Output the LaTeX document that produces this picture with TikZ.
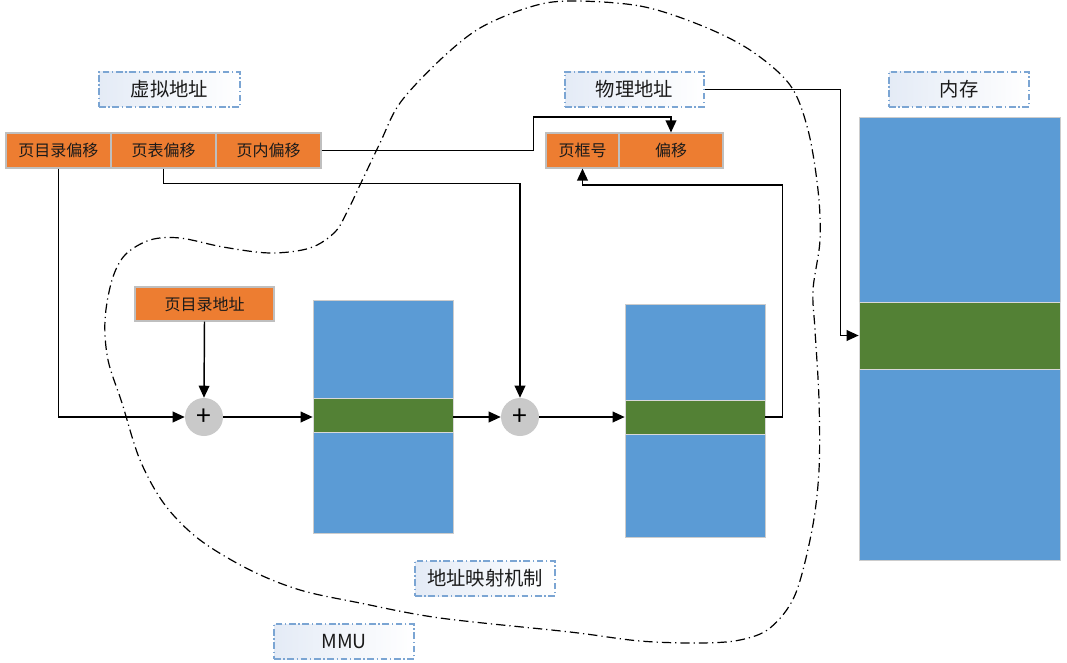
\documentclass[tikz,border=0pt]{standalone}
\usepackage{fontspec}
\setmainfont{Noto Sans CJK SC}
\usetikzlibrary{arrows.meta,shadings}
\definecolor{orng}{HTML}{ED7D31}
\definecolor{blu}{HTML}{5B9BD5}
\definecolor{grn}{HTML}{538135}
\definecolor{lblb}{HTML}{7BA5D3}
\definecolor{lblf}{HTML}{E4EBF6}
\definecolor{txt}{HTML}{1A1A1A}
\definecolor{circ}{HTML}{C9C9C9}
\tikzset{
  lbl/.style={draw=lblb, line width=0.9pt, dash pattern=on 5pt off 2pt on 1pt off 2pt,
    left color=lblf, right color=white, inner sep=0pt, text=txt,
    minimum height=26.25pt, font=\fontsize{14.5}{16}\selectfont},
  obox/.style={draw=black!25, line width=0.8pt, fill=orng, inner sep=0pt, text=txt,
    minimum height=26.25pt, font=\fontsize{12}{13}\selectfont},
  tbl/.style={draw=black!20, line width=0.5pt, fill=blu, inner sep=0pt},
  band/.style={draw=black!15, line width=0.5pt, fill=grn, inner sep=0pt},
  addc/.style={circle, fill=circ, minimum size=28.5pt, inner sep=0pt, font=\fontsize{20}{20}\selectfont},
  arr/.style={line width=1.1pt, -{Triangle[length=9pt,width=8pt]}},
  mmuline/.style={line width=0.9pt, dash pattern=on 7pt off 3pt on 0.9pt off 3pt}
}
\begin{document}
\begin{tikzpicture}[x=0.75pt,y=-0.75pt]
\useasboundingbox (0,0) rectangle (1067,663);
% MMU boundary
\draw[mmuline] plot[smooth cycle, tension=0.55] coordinates {
 (570,1) (640,6) (700,25) (750,50) (790,85) (808,130) (818,190) (820,240) (813,290)
 (815,330) (819,400) (819,470) (812,530) (795,595) (770,628) (740,640) (700,643)
 (640,641) (570,632) (440,618) (360,603) (300,590) (250,570) (200,540) (165,505)
 (140,460) (122,403) (108,360) (105,320) (112,280) (125,255) (150,240) (180,238)
 (223,247) (270,253) (310,248) (335,232) (348,210) (360,185) (380,143) (400,103)
 (440,60) (480,28) (530,7)};
% labels
\node[lbl, minimum width=105.75pt] (lv) at (169.5,89.5) {虚拟地址};
\node[lbl, minimum width=104.25pt] (lp) at (634.5,89.5) {物理地址};
\node[lbl, minimum width=105pt] (lm) at (959,89.5) {内存};
\node[lbl, minimum width=105pt] (lx) at (485,578.5) {地址映射机制};
\node[lbl, minimum width=105pt] (lmmu) at (344,641.5) {MMU};
% virtual address fields
\node[obox, minimum width=78.75pt] (a1) at (58.5,150.5) {页目录偏移};
\node[obox, minimum width=78.75pt] (a2) at (163.5,150.5) {页表偏移};
\node[obox, minimum width=78.75pt] (a3) at (268.5,150.5) {页内偏移};
% physical address fields
\node[obox, minimum width=54.75pt] (p1) at (582.5,150.5) {页框号};
\node[obox, minimum width=78pt] (p2) at (671,150.5) {偏移};
% page directory address
\node[obox, minimum width=104.25pt, minimum height=25.5pt] (dir) at (204.5,304) {页目录地址};
% adders
\node[addc] (c1) at (204,417) {+};
\node[addc] (c2) at (520,417) {+};
% tables
\node[tbl, minimum width=105pt, minimum height=174.75pt] (t1) at (383,416.5) {};
\node[band, minimum width=105pt, minimum height=25.5pt] (t1g) at (383,415) {};
\node[tbl, minimum width=105pt, minimum height=174.75pt] (t2) at (695,420.5) {};
\node[band, minimum width=105pt, minimum height=25.5pt] (t2g) at (695,417) {};
% memory
\node[tbl, minimum width=150.75pt, minimum height=332.25pt] (mem) at (959.5,338.5) {};
\node[band, minimum width=150.75pt, minimum height=50.25pt] (mg) at (959.5,335.5) {};
% connectors
\draw[arr] (a1.south) |- (c1.west);
\draw[arr] (dir.south) -- (c1.north);
\draw[arr] (c1.east) -- (t1g.west |- c1);
\draw[arr] (a2.south) -- ++(0,15) -| (c2.north);
\draw[arr] (t1g.east |- c2) -- (c2.west);
\draw[arr] (c2.east) -- (t2g.west |- c2);
\draw[arr] (t2g.east |- c2) -- ++(17,0) -- ++(0,-232) -| (p1.south);
\draw[arr] (a3.east) -- ++(212,0) -- ++(0,-33.5) -| (p2.north);
\draw[arr] (lp.east) -- ++(136,0) |- (mg.west);
\end{tikzpicture}
\end{document}
